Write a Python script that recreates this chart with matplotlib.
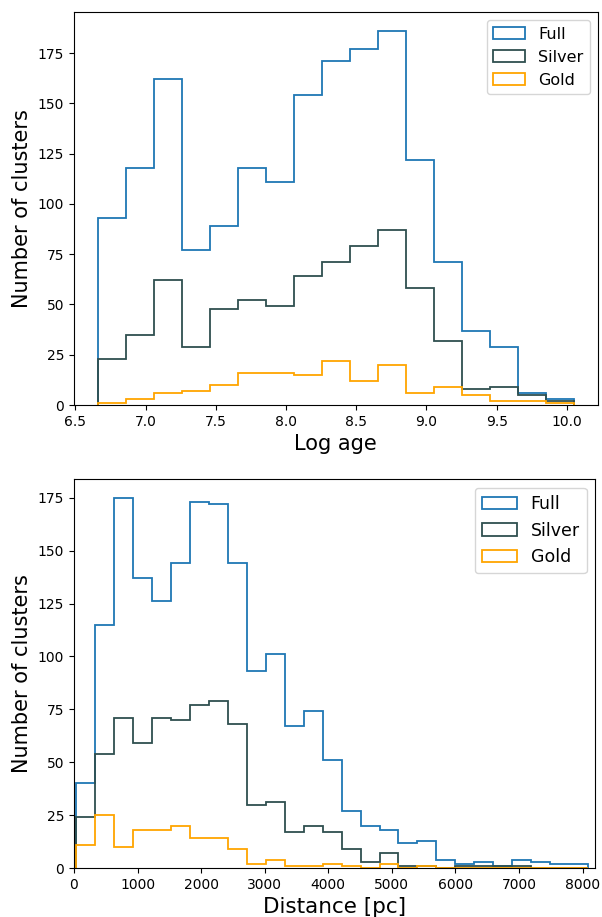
import numpy as np
import matplotlib
matplotlib.use('Agg')
import matplotlib.pyplot as plt

plt.rcParams['font.size'] = 10

# bin edges of the two histograms
age_edges = np.linspace(6.66, 10.05, 18)
dist_edges = np.linspace(31.0, 8088.0, 28)

# counts per log-age bin
age_full = [93, 118, 162, 77, 89, 118, 111, 154, 171, 177, 186, 122, 71, 37, 29, 6, 3]
age_silver = [23, 35, 62, 29, 48, 52, 49, 64, 71, 79, 87, 58, 32, 8, 9, 5, 2]
age_gold = [1, 3, 6, 7, 10, 16, 16, 15, 22, 12, 20, 6, 9, 5, 2, 2, 1]

# counts per distance bin
dist_full = [40, 115, 175, 137, 126, 144, 173, 172, 144, 93, 101, 67, 74, 51,
             27, 20, 18, 12, 13, 4, 2, 3, 1, 4, 3, 2, 2]
dist_silver = [24, 54, 71, 59, 71, 70, 77, 79, 68, 30, 31, 17, 20, 17,
               9, 3, 7, 1, 1, 0, 1, 1, 1, 1, 0, 0, 0]
dist_gold = [11, 25, 10, 18, 18, 20, 14, 14, 9, 2, 4, 1, 1, 2,
             1, 0, 2, 0, 1, 0, 0, 0, 0, 0, 0, 0, 0]

labels = ['Full', 'Silver', 'Gold']
colors = ['#1f77b4', 'darkslategray', 'orange']

fig = plt.figure(figsize=(6.02, 9.17), dpi=100)
ax1 = fig.add_axes([0.1229, 0.5583, 0.870, 0.4283])
ax2 = fig.add_axes([0.1229, 0.0534, 0.8660, 0.4239])


def draw(ax, edges, series):
    centers = 0.5 * (edges[:-1] + edges[1:])
    for counts, lab, c in zip(series, labels, colors):
        ax.hist(centers, bins=edges, weights=counts, histtype='step',
                color=c, lw=1.3, label=lab)


draw(ax1, age_edges, [age_full, age_silver, age_gold])
ax1.set_xlabel('Log age', fontsize=15)
ax1.set_ylabel('Number of clusters', fontsize=15)
ax1.legend(loc='upper right', fontsize=11.5)

draw(ax2, dist_edges, [dist_full, dist_silver, dist_gold])
ax2.set_xlim(0, 8200)
ax2.set_xlabel('Distance [pc]', fontsize=15.5)
ax2.set_ylabel('Number of clusters', fontsize=15)
ax2.legend(loc='upper right', fontsize=12.5)

fig.savefig('out.png', dpi=100)
